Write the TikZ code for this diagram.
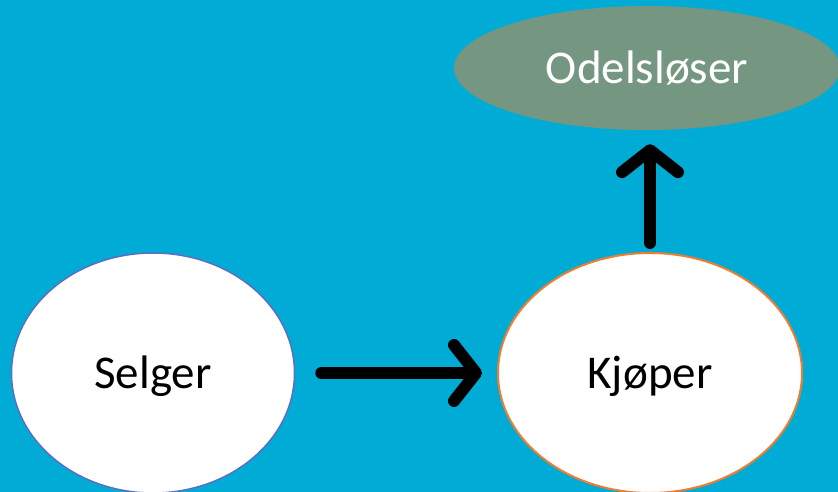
\documentclass[tikz,border=0pt]{standalone}
\usepackage{fontspec}
\setmainfont{Carlito}
\usetikzlibrary{shapes.geometric,arrows.meta}
\definecolor{bgcyan}{RGB}{0,172,214}
\definecolor{oval}{RGB}{117,150,129}
\definecolor{selgerborder}{RGB}{91,111,192}
\definecolor{kjoperborder}{RGB}{237,125,49}
\tikzset{
  oval/.style={ellipse, inner sep=0pt, text height=37pt, text depth=6pt, font=\fontsize{47}{50}\selectfont},
  conn/.style={line width=12pt, line cap=round, line join=round,
    -{Straight Barb[length=22pt, width=56pt, line cap=round, line join=round]}},
}
\begin{document}
\begin{tikzpicture}[x=1pt, y=-1pt]
\fill[bgcyan] (0,0) rectangle (838,492);
\useasboundingbox (0,0) rectangle (838,492);
\node[oval, fill=oval, text=white, minimum width=386pt, minimum height=124pt] (odel) at (647,68) {Odelsløser};
\node[oval, fill=white, draw=selgerborder, line width=1.5pt, minimum width=283pt, minimum height=240pt] (selger) at (153,373) {Selger};
\node[oval, fill=white, draw=kjoperborder, line width=2pt, minimum width=304pt, minimum height=240pt] (kjoper) at (650,373) {Kjøper};
\draw[conn, shorten <=26pt, shorten >=15pt] (selger.east) -- (kjoper.west);
\draw[conn, shorten <=9pt, shorten >=14pt] (kjoper.north) -- (kjoper.north |- odel.south);
\end{tikzpicture}
\end{document}
